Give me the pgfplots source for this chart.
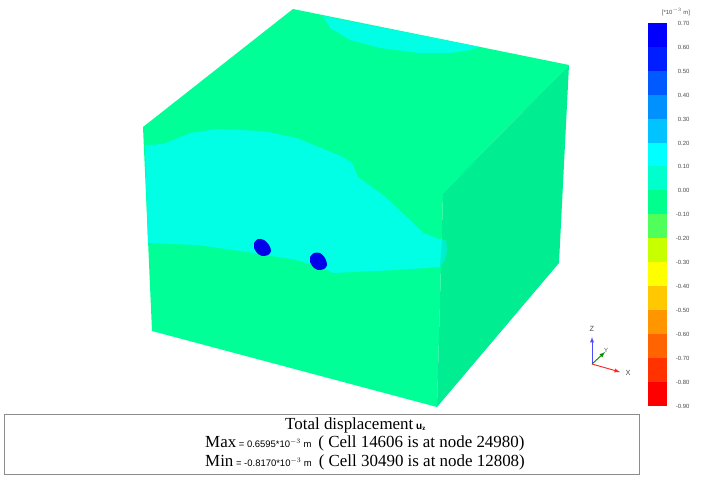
\documentclass[border=0pt]{standalone}
\usepackage{pgfplots}
\pgfplotsset{compat=1.18}
\usepackage{fontspec}
\setmainfont{Liberation Serif}
\newfontfamily\sans{Liberation Sans}
\definecolor{faceL}{RGB}{0,255,150}
\definecolor{faceR}{RGB}{0,238,145}
\definecolor{cyanzone}{RGB}{0,255,228}
\definecolor{cyanzoneR}{RGB}{0,238,205}
\definecolor{dotblue}{RGB}{0,0,235}
\begin{document}
\begin{tikzpicture}
\begin{axis}[
  scale only axis, width=706bp, height=479bp,
  xmin=0, xmax=706, ymin=0, ymax=479, y dir=reverse,
  axis lines=none, clip=true,
]
% page background, keeps the bounding box at full size
\addplot[fill=white, draw=none] coordinates {(0,0) (706,0) (706,479) (0,479)} -- cycle;
% cube faces
\addplot[fill=faceL, draw=none] coordinates {(143,127) (293,9) (569,65) (443,193) (437,407) (152,331)} -- cycle;
\addplot[fill=faceR, draw=none] coordinates {(443,193) (569,65) (559,263) (437,407)} -- cycle;
% contour zones
\addplot[fill=cyanzone, draw=none] coordinates {(323,16) (480,47) (470,50) (450,53) (420,53) (380,48) (350,40) (330,28)} -- cycle;
\addplot[fill=cyanzone, draw=none] coordinates {(145,145) (163,144) (190,133) (217,129) (263,131) (297,138) (343,157) (352,163) (358,177) (383,195) (407,217) (423,233) (442,240) (440,267) (397,270) (333,273) (327,270) (297,260) (247,252) (197,245) (148,243)} -- cycle;
\addplot[fill=cyanzoneR, draw=none] coordinates {(442,240) (446,240) (447,250) (445,260) (440,267)} -- cycle;
% dots
\addplot[fill=dotblue, draw=none, smooth] coordinates {(254,243) (258,239) (264,240) (269,245) (271,251) (268,255) (262,256) (257,253) (254,248)} -- cycle;
\addplot[fill=dotblue, draw=none, smooth] coordinates {(310,257) (314,253) (320,253) (325,258) (327,265) (324,269) (318,270) (313,267) (310,262)} -- cycle;
% colour bar
\addplot[fill={rgb,255:red,0;green,0;blue,255}, draw=none] coordinates {(648,23) (667,23) (667,47) (648,47)} -- cycle;
\addplot[fill={rgb,255:red,0;green,30;blue,255}, draw=none] coordinates {(648,47) (667,47) (667,71) (648,71)} -- cycle;
\addplot[fill={rgb,255:red,0;green,90;blue,255}, draw=none] coordinates {(648,71) (667,71) (667,95) (648,95)} -- cycle;
\addplot[fill={rgb,255:red,0;green,145;blue,255}, draw=none] coordinates {(648,95) (667,95) (667,119) (648,119)} -- cycle;
\addplot[fill={rgb,255:red,0;green,195;blue,255}, draw=none] coordinates {(648,119) (667,119) (667,143) (648,143)} -- cycle;
\addplot[fill={rgb,255:red,0;green,255;blue,255}, draw=none] coordinates {(648,143) (667,143) (667,166) (648,166)} -- cycle;
\addplot[fill={rgb,255:red,0;green,255;blue,205}, draw=none] coordinates {(648,166) (667,166) (667,190) (648,190)} -- cycle;
\addplot[fill={rgb,255:red,0;green,255;blue,140}, draw=none] coordinates {(648,190) (667,190) (667,214) (648,214)} -- cycle;
\addplot[fill={rgb,255:red,80;green,255;blue,90}, draw=none] coordinates {(648,214) (667,214) (667,238) (648,238)} -- cycle;
\addplot[fill={rgb,255:red,200;green,255;blue,0}, draw=none] coordinates {(648,238) (667,238) (667,262) (648,262)} -- cycle;
\addplot[fill={rgb,255:red,255;green,255;blue,0}, draw=none] coordinates {(648,262) (667,262) (667,286) (648,286)} -- cycle;
\addplot[fill={rgb,255:red,255;green,200;blue,0}, draw=none] coordinates {(648,286) (667,286) (667,310) (648,310)} -- cycle;
\addplot[fill={rgb,255:red,255;green,150;blue,0}, draw=none] coordinates {(648,310) (667,310) (667,334) (648,334)} -- cycle;
\addplot[fill={rgb,255:red,255;green,100;blue,0}, draw=none] coordinates {(648,334) (667,334) (667,358) (648,358)} -- cycle;
\addplot[fill={rgb,255:red,255;green,50;blue,0}, draw=none] coordinates {(648,358) (667,358) (667,382) (648,382)} -- cycle;
\addplot[fill={rgb,255:red,255;green,0;blue,0}, draw=none] coordinates {(648,382) (667,382) (667,406) (648,406)} -- cycle;
% axes triad
\addplot[blue!70, line width=0.9pt, -latex] coordinates {(592,364) (592,337)};
\addplot[red!85, line width=0.9pt, -latex] coordinates {(592,364) (620,372)};
\addplot[green!55!black, line width=0.9pt, -latex] coordinates {(592,364) (605,352)};
% caption box
\addplot[draw=black!45, fill=white, line width=0.7pt] coordinates {(4,414) (639,414) (639,474) (4,474)} -- cycle;
% texts
\foreach \v/\y in {0.70/23,0.60/47,0.50/71,0.40/95,0.30/119,0.20/143,0.10/166,0.00/190,-0.10/214,-0.20/238,-0.30/262,-0.40/286,-0.50/310,-0.60/334,-0.70/358,-0.80/382,-0.90/406}{
  \edef\tmp{\noexpand\node[anchor=east, text=black!70, font=\noexpand\sans\noexpand\fontsize{6}{7}\noexpand\selectfont] at (axis cs:693,\y) {\v};}
  \tmp
}
\node[text=black!70, font=\sans\fontsize{6}{7}\selectfont] at (axis cs:676,12) {[*10$^{-3}$ m]};
\node[text=black!70, font=\sans\fontsize{7.5}{8}\selectfont] at (axis cs:592,329) {Z};
\node[text=black!70, font=\sans\fontsize{7.5}{8}\selectfont] at (axis cs:628,373) {X};
\node[text=black!70, font=\sans\fontsize{6}{7}\selectfont] at (axis cs:606,350) {Y};
\node[anchor=west, inner sep=0pt, font=\fontsize{17}{19}\selectfont] at (axis cs:285,425) {Total displacement\,{\sans\bfseries\fontsize{10}{11}\selectfont u$_{\mathbf z}$}};
\node[anchor=west, inner sep=0pt, font=\fontsize{17}{19}\selectfont] at (axis cs:205,443) {Max{\sans\fontsize{9.5}{10}\selectfont{} = 0.6595*10$^{-3}$ m}\, ( Cell 14606 is at node 24980)};
\node[anchor=west, inner sep=0pt, font=\fontsize{17}{19}\selectfont] at (axis cs:205,462) {Min{\sans\fontsize{9.5}{10}\selectfont{} = -0.8170*10$^{-3}$ m}\, ( Cell 30490 is at node 12808)};
\end{axis}
\end{tikzpicture}
\end{document}
